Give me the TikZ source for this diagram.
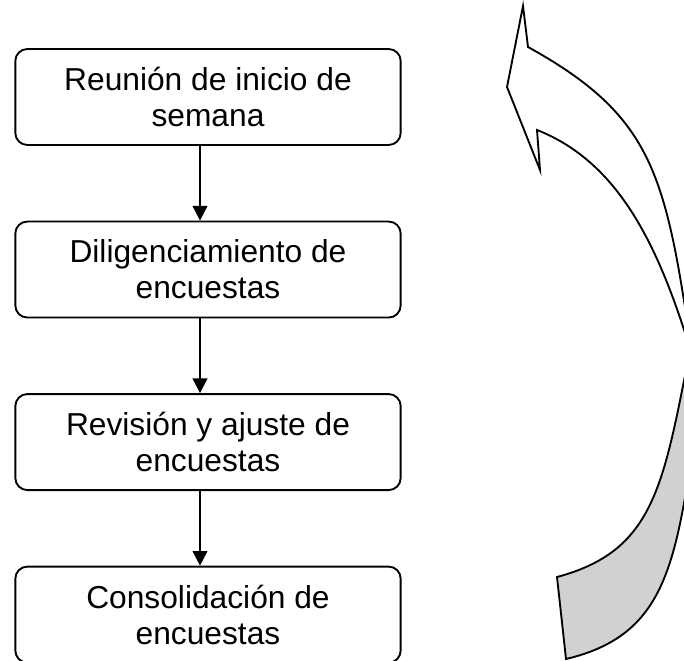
\documentclass[tikz,border=0pt]{standalone}
\usepackage{fontspec}
\setmainfont{Liberation Sans}
\usepackage{tikz}
\usetikzlibrary{positioning, arrows.meta}

\begin{document}
\begin{tikzpicture}
  [x=0.75pt, y=-0.75pt, line width=1.4pt, node distance=56pt,
   box/.style={rectangle, rounded corners=9pt, draw, minimum width=289pt,
     minimum height=72pt, align=center, font=\fontsize{23.8}{27}\selectfont},
   flow/.style={-{Triangle[length=11pt, width=11pt]}}]
  \clip (0,0) rectangle (684,660);
  \node[box] (R) at (208,97) {Reunión de inicio de\\semana};
  \node[box] (D) [below=of R] {Diligenciamiento de\\encuestas};
  \node[box] (V) [below=of D] {Revisión y ajuste de\\encuestas};
  \node[box] (C) [below=of V] {Consolidación de\\encuestas};

  \draw[flow] ([xshift=-6pt]R.south) -- ([xshift=-6pt]D.north);
  \draw[flow] ([xshift=-6pt]D.south) -- ([xshift=-6pt]V.north);
  \draw[flow] ([xshift=-6pt]V.south) -- ([xshift=-6pt]C.north);

  % curved arrow on the right
  \draw[fill=black!18] (557,577) -- (566,659)
    .. controls (663,636) and (675,569) .. (694,440) -- (720,440) -- (720,350)
    -- (690,350) .. controls (663,487) and (654,551) .. (557,577) -- cycle;
  \draw (690,340) .. controls (665,172) and (651,115) .. (528,47)
    -- (523,6) -- (507,87) -- (540,170) -- (537,130)
    .. controls (621,163) and (660,250) .. (692,355);
\end{tikzpicture}
\end{document}
